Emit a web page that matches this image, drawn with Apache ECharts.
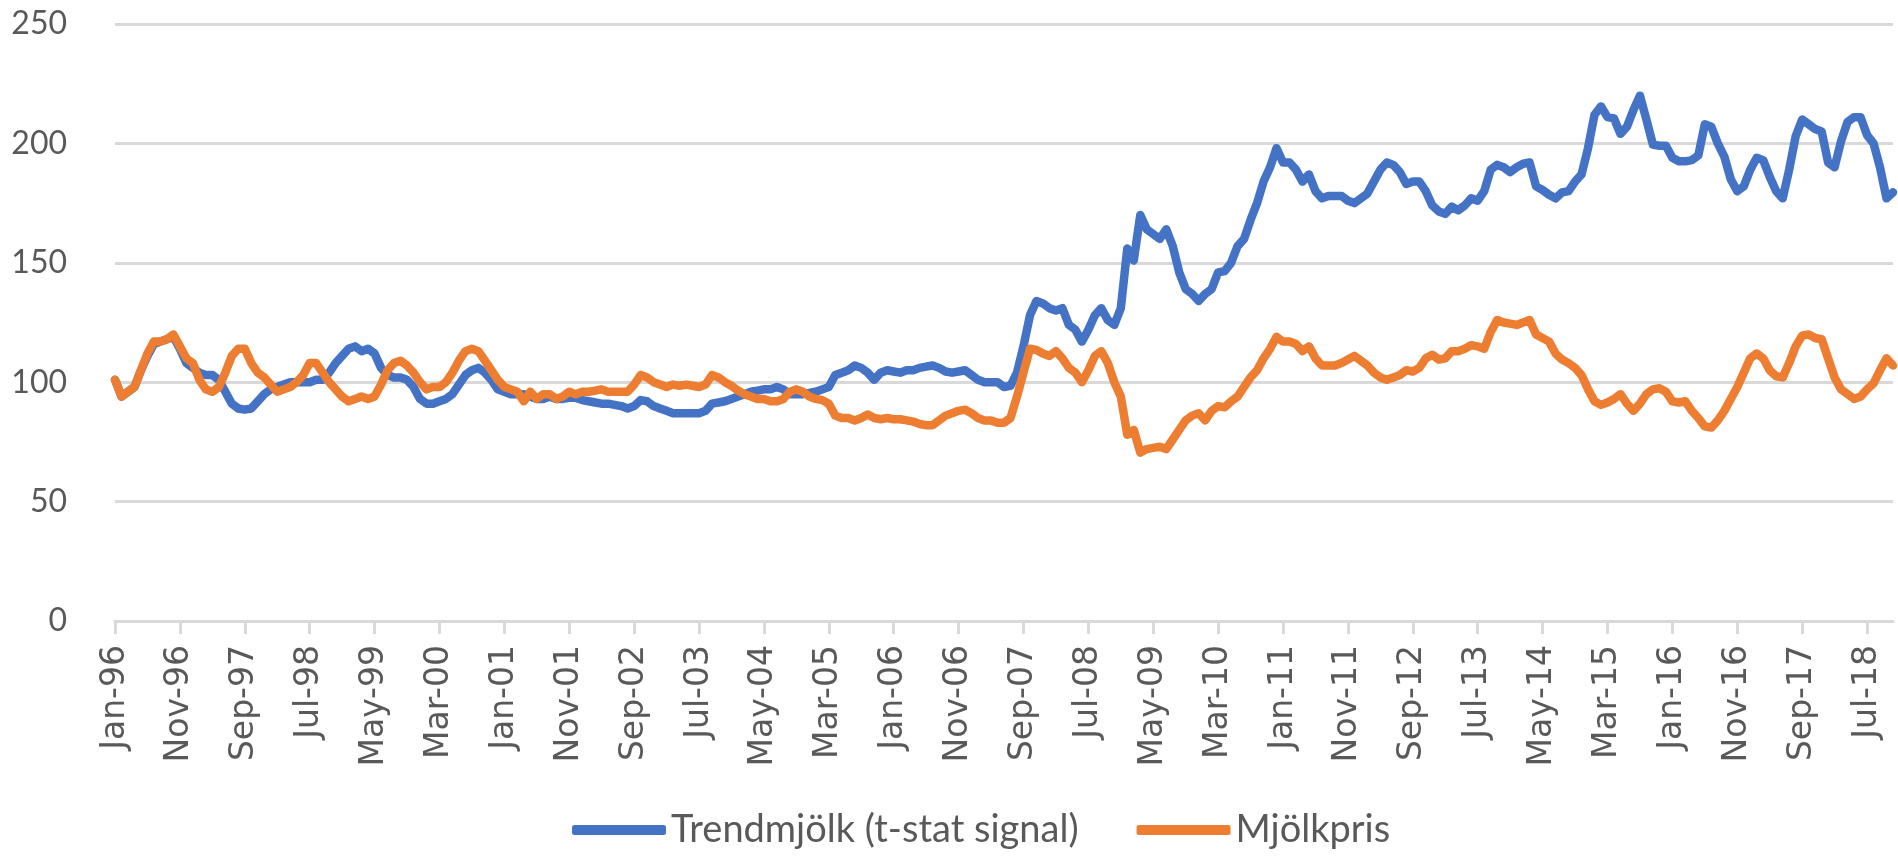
<!DOCTYPE html>
<html>
<head>
<meta charset="utf-8">
<script src="https://cdn.jsdelivr.net/npm/echarts@6/dist/echarts.min.js"></script>
<style>
html,body{margin:0;padding:0;background:#fff;}
#chart{width:1898px;height:856px;}
</style>
</head>
<body>
<div id="chart"></div>
<script>
// Monthly categories Jan-96 .. Nov-18
const monthNames = ["Jan","Feb","Mar","Apr","May","Jun","Jul","Aug","Sep","Oct","Nov","Dec"];
const startYear = 1996;
const monthCount = 275;

// Trendmjölk (t-stat signal), one row per year
const trendmjolk = [
  101,94,96,98,105,111,116,117,118,119,114,108,            // 1996
  106,104,103,103,101,96,91,89,88.5,89,92,95,              // 1997
  97,98,99,100,100,100,100,101,101,104,108,111,            // 1998
  114,115,113,114,112,106,103,102,102,101,98,93,           // 1999
  91,91,92,93,95,99,103,105,106,104,101,97,                // 2000
  96,95,95,95,94,93,93,94,93,93,93.5,93.5,                 // 2001
  92.5,92,91.5,91,91,90.5,90,89,90,92.5,92,90,             // 2002
  89,88,87,87,87,87,87,88,91,91.5,92,93,                   // 2003
  94,95,96,96.5,97,97,98,97,95,95,95,95.5,                 // 2004
  96,97,98,103,104,105,107,106,104,101,104,105,            // 2005
  104.5,104,105,105,106,106.5,107,106,104.5,104,104.5,105, // 2006
  103,101,100,100,100,98,98.5,104,115,128,134,133,         // 2007
  131,130,131,124,122,117,122,128,131,126,124,131,         // 2008
  156,151,170,164,162,160,164,157,146,139,137,134,         // 2009
  137,139,146,146.5,150,157,160,168,175,184,190,198,       // 2010
  192,192,189,184,187,180,177,178,178,178,176,175,         // 2011
  177,179,184,189,192,191,188,183,184,184,180,174,         // 2012
  171.5,170.5,173.5,172,174,177,176,180,189,191,190,188,   // 2013
  190,191.5,192,182,180.5,178.5,177,179.5,180,184,187,198, // 2014
  212,215.5,211,210.5,204,207,214,220,210,199.5,199,199,   // 2015
  194,192.5,192.5,193,195,208,207,200,194.5,185,180,182,   // 2016
  189,194,193,186,180,177,189,203,210,208,206,205,         // 2017
  192,190,201,209,211,211,203.5,200,190,177,179.5          // 2018
];

// Mjölkpris, one row per year
const mjolkpris = [
  101,94,96,98,105,112,117,117,118,120,115,110,            // 1996
  108,101,97,96,98,104,111,114,114,108,104,102,            // 1997
  99,96,97,98,100,103,108,108,104,100,97,94,               // 1998
  92,93,94,93,94,99,105,108,109,107,104,100,               // 1999
  97,98,98,100,104,109,113,114,113,109,105,101,            // 2000
  98,97,96,92,96,93,95,95,93,94,96,95,                     // 2001
  96,96,96.5,97,96,96,96,96,99,103,102,100,                // 2002
  99,98,99,98.5,99,98.5,98,99,103,102,100,98.5,            // 2003
  96.5,95,94,93,93,92,92,93,96,97,96,94,                   // 2004
  93,92.5,91,86,85,85,84,85,86.5,85,84.5,85,               // 2005
  84.5,84.5,84,83.5,82.5,82,82,84,86,87,88,88.5,           // 2006
  87,85,84,84,83,83,85,94,104,114,113.5,112,               // 2007
  111,113,110,106,104,100,105,111,113,108,100,94,          // 2008
  78,80,70.5,72,72.5,73,72,76,80,84,86,87,                 // 2009
  84,88,90,89.5,92,94,98,102,105,110,114,119,              // 2010
  117,117,116,113,115,110,107,107,107,108,109.5,111,       // 2011
  109,107,104,102,101,102,103,105,104.5,106,110,111.5,     // 2012
  109.5,110,113,113,114,115.5,115,114,121,126,125,124.5,   // 2013
  124,125,126,120,118.5,117,112,109.5,108,106,103,97,      // 2014
  92,90.5,91.5,93,95,91,88,91,95,97,97.5,96,               // 2015
  92,91.5,92,88,85,81.5,81,84,88,93,98,104,                // 2016
  110,112,110,105,102.5,102,108,115,119.5,120,118.5,118,   // 2017
  110,102,97,95,93,94,97,99.5,105,110,107                  // 2018
];

const yTicks = [0, 50, 100, 150, 200, 250];
const seriesNames = ["Trendmjölk (t-stat signal)", "Mjölkpris"];

const categories = [];
for (let i = 0; i < monthCount; i++) {
  const y = startYear + Math.floor(i / 12);
  categories.push(monthNames[i % 12] + "-" + String(y % 100).padStart(2, "0"));
}

const grey = "#595959";
const gridGrey = "#d9d9d9";

const chart = echarts.init(document.getElementById("chart"), null, {renderer: "canvas"});
chart.setOption({
  animation: false,
  backgroundColor: "#ffffff",
  grid: {left: 115, right: 5, top: 24, bottom: 235, containLabel: false},
  xAxis: {
    type: "category",
    data: categories,
    boundaryGap: false,
    axisLine: {show: true, lineStyle: {color: gridGrey, width: 3}},
    axisTick: {show: true, interval: 9, length: 13, lineStyle: {color: gridGrey, width: 3}},
    axisLabel: {
      interval: 9, rotate: 90, margin: 24,
      fontFamily: "DejaVu Sans", fontSize: 33, color: grey
    },
    splitLine: {show: false}
  },
  yAxis: {
    type: "value",
    min: yTicks[0], max: yTicks[yTicks.length - 1], interval: 50,
    axisLine: {show: false},
    axisTick: {show: false},
    axisLabel: {margin: 48, fontFamily: "Lato", fontSize: 32, color: grey},
    splitLine: {show: true, lineStyle: {color: gridGrey, width: 3}}
  },
  legend: {
    bottom: 2,
    left: 567,
    icon: "roundRect",
    itemWidth: 94,
    itemHeight: 10,
    itemGap: 58,
    textStyle: {fontFamily: "Lato", fontSize: 38, color: grey},
    data: seriesNames
  },
  series: [
    {
      name: seriesNames[0], type: "line", data: trendmjolk,
      showSymbol: false, symbol: "none",
      lineStyle: {color: "#4472C4", width: 8.5, join: "round", cap: "round"},
      itemStyle: {color: "#4472C4"}
    },
    {
      name: seriesNames[1], type: "line", data: mjolkpris,
      showSymbol: false, symbol: "none",
      lineStyle: {color: "#ED7D31", width: 8.5, join: "round", cap: "round"},
      itemStyle: {color: "#ED7D31"}
    }
  ]
});
</script>
</body>
</html>
